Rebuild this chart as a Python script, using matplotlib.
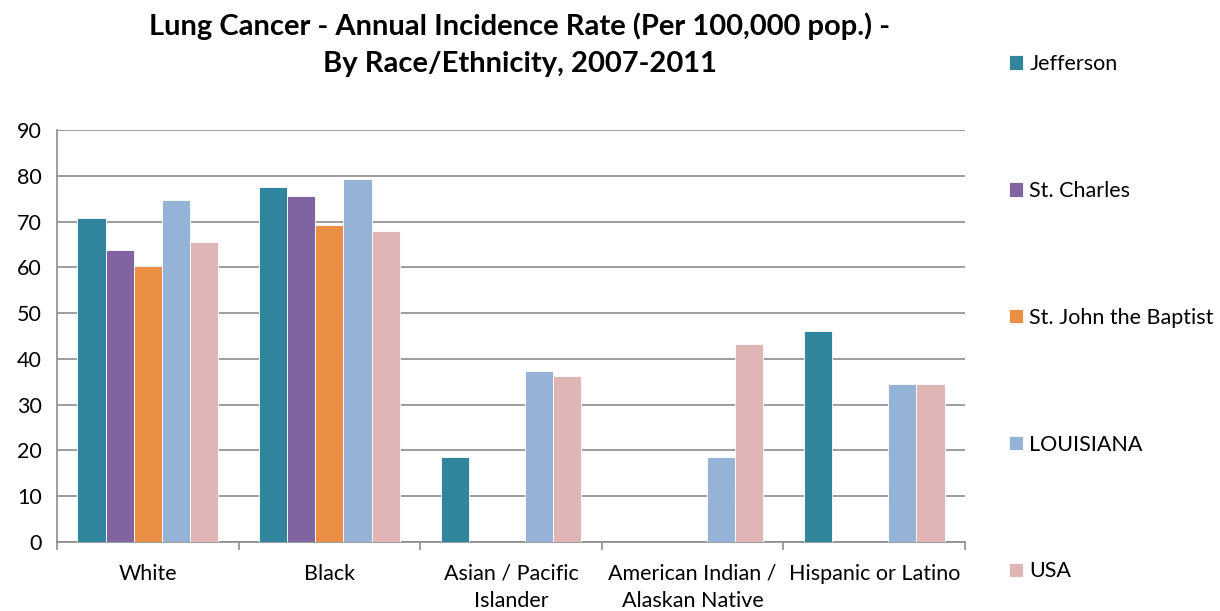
import numpy as np
import matplotlib.pyplot as plt

plt.rcParams['font.family'] = ['Lato', 'DejaVu Sans']

categories = ["White", "Black", "Asian / Pacific\nIslander",
              "American Indian /\nAlaskan Native", "Hispanic or Latino"]
series_names = ["Jefferson", "St. Charles", "St. John the Baptist", "LOUISIANA", "USA"]
jefferson = [70.8, 77.5, 18.6, 0, 46.1]
st_charles = [63.9, 75.6, 0, 0, 0]
st_john = [60.3, 69.3, 0, 0, 0]
louisiana = [74.8, 79.3, 37.4, 18.6, 34.5]
usa = [65.5, 68.0, 36.2, 43.3, 34.6]
colors = ["#31859C", "#8064A2", "#EB8F44", "#95B3D7", "#DFB5B5"]

values = [jefferson, st_charles, st_john, louisiana, usa]

fig = plt.figure(figsize=(12.2, 6.11), dpi=100)
ax = fig.add_axes([0.0467, 0.1129, 0.7443, 0.6743])

x = np.arange(len(categories))
w = 0.155
handles = []
for i, (name, vals) in enumerate(zip(series_names, values)):
    h = ax.bar(x + (i - 2) * w, vals, width=w, color=colors[i],
               edgecolor="white", linewidth=0.6, label=name, zorder=3)
    handles.append(h)

ax.set_xlim(-0.5, len(categories) - 0.5)
ax.set_ylim(0, 90)
ax.set_yticks(range(0, 91, 10))
ax.yaxis.grid(True, color="#8C8C8C", linewidth=1.2, zorder=0)
ax.tick_params(axis="y", length=0, labelsize=15.5, pad=11)
ax.set_xticks(x)
ax.set_xticklabels(categories, fontsize=15.5, linespacing=1.45)
ax.tick_params(axis="x", length=0, pad=15.5)
ax.set_xticks(np.arange(-0.5, len(categories)), minor=True)
ax.tick_params(axis="x", which="minor", length=6, width=1.2, color="#8C8C8C", direction="out")
for s in ["top", "right"]:
    ax.spines[s].set_visible(False)
for s in ["left", "bottom"]:
    ax.spines[s].set_color("#8C8C8C")
    ax.spines[s].set_linewidth(1.2)

fig.text(0.426, 0.927, "Lung Cancer - Annual Incidence Rate (Per 100,000 pop.) -\nBy Race/Ethnicity, 2007-2011",
         ha="center", va="center", fontsize=21, fontweight="bold", linespacing=1.53)

fig.legend(handles=handles, loc="upper left", bbox_to_anchor=(0.811, 0.943),
           frameon=False, fontsize=15.5, labelspacing=4.96, handlelength=0.65,
           handleheight=0.65, handletextpad=0.3)

fig.savefig("out.png", dpi=100)
